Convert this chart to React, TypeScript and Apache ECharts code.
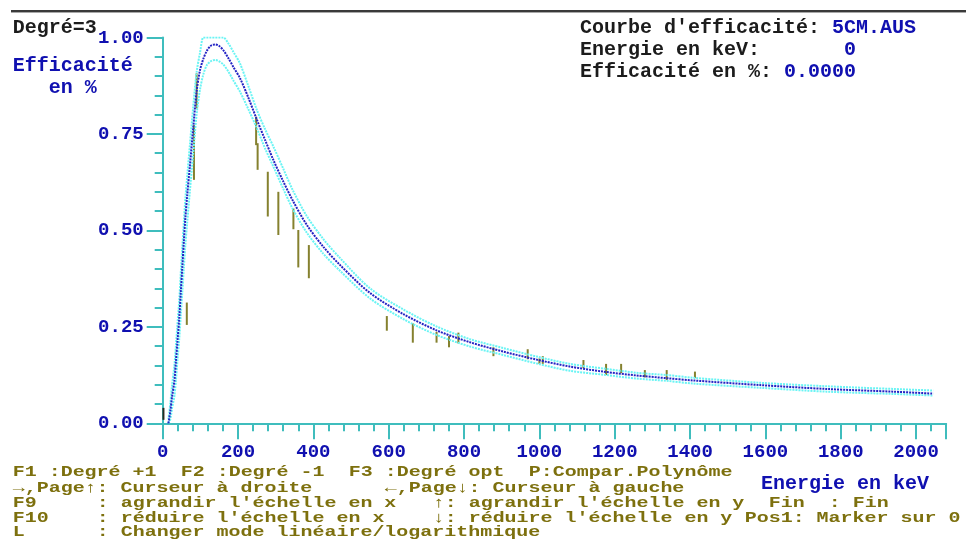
import React, { useEffect, useRef } from 'react';
import * as echarts from 'echarts';

// Energies (keV) at which the fitted curve and its confidence band were read
const energies = [15, 20, 25, 31, 35, 39, 44, 48, 52, 56, 60, 65, 72, 81, 90, 99, 108, 117, 127, 139, 150, 161, 174, 188, 205, 227, 250, 272, 294, 320, 345, 382, 426, 471, 550, 639, 727, 816, 904, 993, 1081, 1170, 1258, 1338, 1409, 1586, 1763, 1940, 2046];
// Fitted efficiency (degree 3 polynomial)
const fitValues = [0.0, 0.03, 0.07, 0.11, 0.16, 0.21, 0.275, 0.34, 0.405, 0.47, 0.53, 0.59, 0.665, 0.765, 0.86, 0.915, 0.945, 0.965, 0.978, 0.982, 0.978, 0.967, 0.947, 0.923, 0.895, 0.845, 0.787, 0.734, 0.682, 0.627, 0.578, 0.515, 0.458, 0.410, 0.338, 0.283, 0.241, 0.210, 0.186, 0.165, 0.147, 0.134, 0.124, 0.117, 0.111, 0.099, 0.089, 0.082, 0.077];
// Upper / lower confidence limits
const upperValues = [0.01, 0.05, 0.10, 0.15, 0.20, 0.255, 0.32, 0.39, 0.455, 0.52, 0.58, 0.64, 0.72, 0.82, 0.91, 0.96, 1.0, 1.0, 1.0, 1.0, 1.0, 1.0, 0.985, 0.962, 0.933, 0.875, 0.812, 0.762, 0.717, 0.66, 0.605, 0.538, 0.478, 0.428, 0.350, 0.295, 0.251, 0.218, 0.195, 0.173, 0.154, 0.142, 0.131, 0.125, 0.118, 0.105, 0.096, 0.089, 0.085];
const lowerValues = [0.0, 0.01, 0.04, 0.07, 0.11, 0.16, 0.22, 0.28, 0.34, 0.40, 0.46, 0.52, 0.60, 0.70, 0.80, 0.865, 0.905, 0.928, 0.938, 0.942, 0.938, 0.930, 0.912, 0.888, 0.860, 0.815, 0.765, 0.712, 0.665, 0.608, 0.556, 0.495, 0.440, 0.395, 0.324, 0.270, 0.229, 0.199, 0.177, 0.155, 0.136, 0.126, 0.116, 0.110, 0.103, 0.092, 0.082, 0.076, 0.072];

// Measured points (error bars); the first one is the dark low-energy noise bar
const barEnergies = [2, 64, 83, 90, 248, 252, 279, 307, 347, 360, 388, 595, 664, 727, 760, 785, 878, 969, 1000, 1009, 1117, 1177, 1217, 1280, 1338, 1413];
const barLow = [0.009, 0.255, 0.631, 0.816, 0.721, 0.657, 0.536, 0.488, 0.503, 0.404, 0.376, 0.240, 0.209, 0.209, 0.197, 0.207, 0.174, 0.166, 0.154, 0.154, 0.143, 0.125, 0.130, 0.119, 0.112, 0.117];
const barHigh = [0.04, 0.313, 0.773, 0.907, 0.795, 0.726, 0.652, 0.600, 0.557, 0.501, 0.462, 0.278, 0.259, 0.237, 0.226, 0.235, 0.197, 0.192, 0.168, 0.174, 0.164, 0.154, 0.154, 0.138, 0.138, 0.134];
const barKind = [1, 0, 0, 0, 0, 0, 0, 0, 0, 0, 0, 0, 0, 0, 0, 0, 0, 0, 0, 0, 0, 0, 0, 0, 0, 0];

const X_LABEL_MAX = 2000;

const FONT = '"Liberation Mono", "DejaVu Sans Mono", monospace';
const BLUE = '#1010b0';
const DARK = '#1c1c1c';
const OLIVE_TXT = '#7d700e';
const AXIS = '#3fbdbd';
const BAR_COLORS = ['#85812f', '#2a2a20'];

// Help text (column, text)
const helpLines: [number, string][][] = [
  [[0, 'F1 :Degré +1'], [14, 'F2 :Degré -1'], [28, 'F3 :Degré opt'], [43, 'P:Compar.Polynôme']],
  [[0, '→,Page↑: Curseur à droite'], [31, '←,Page↓: Curseur à gauche']],
  [[0, 'F9'], [7, ': agrandir l\'échelle en x'], [35, '↑: agrandir l\'échelle en y'], [63, 'Fin'], [68, ': Fin']],
  [[0, 'F10'], [7, ': réduire l\'échelle en x'], [35, '↓: réduire l\'échelle en y'], [61, 'Pos1: Marker sur 0']],
  [[0, 'L'], [7, ': Changer mode linéaire/logarithmique']],
];

function buildOption() {
  const pair = (vals: number[]) => energies.map((e, i) => [e, vals[i]]);
  const bars = barEnergies.map((e, i) => [e, barLow[i], barHigh[i], barKind[i]]);

  const barRender = (p: any, api: any) => {
    const a = api.coord([api.value(0), api.value(1)]);
    const b = api.coord([api.value(0), api.value(2)]);
    const color = BAR_COLORS[api.value(3)] || BAR_COLORS[0];
    return { type: 'line', shape: { x1: a[0], y1: a[1], x2: b[0], y2: b[1] }, style: { stroke: color, lineWidth: 2 } };
  };

  const graphics: any[] = [
    { type: 'rect', shape: { x: 11, y: 10, width: 955, height: 2 }, style: { fill: '#3a3a3a' } },
    { type: 'rect', shape: { x: 11, y: 12, width: 955, height: 1 }, style: { fill: '#a8a8a8' } },
  ];
  const txt = (x: number, y: number, text: string, fill: string, size = 20, scaleX = 1) => ({
    type: 'text', x, y, scaleX,
    style: { text, fill, font: `bold ${size}px ${FONT}`, verticalAlign: 'middle' },
  });
  graphics.push(txt(12.7, 27, 'Degré=3', DARK));
  graphics.push(txt(12.7, 65.5, 'Efficacité', BLUE));
  graphics.push(txt(48.7, 87.5, 'en %', BLUE));
  graphics.push(txt(580, 27, 'Courbe d\'efficacité:', DARK));
  graphics.push(txt(580 + 21 * 12, 27, '5CM.AUS', BLUE));
  graphics.push(txt(580, 49, 'Energie en keV:', DARK));
  graphics.push(txt(580 + 22 * 12, 49, '0', BLUE));
  graphics.push(txt(580, 71, 'Efficacité en %:', DARK));
  graphics.push(txt(580 + 17 * 12, 71, '0.0000', BLUE));
  graphics.push(txt(761, 483, 'Energie en keV', BLUE));
  const lineY = [472, 487.5, 503, 518, 532];
  helpLines.forEach((segs, li) => {
    segs.forEach(([col, s]) => {
      graphics.push(txt(12.7 + col * 12, lineY[li], s, OLIVE_TXT, 15, 1.3333));
    });
  });

  return {
    animation: false,
    grid: { left: 162.7, top: 37.5, right: 19.8, bottom: 115.7 },
    xAxis: {
      type: 'value', min: 0, max: 2080, interval: 200,
      axisLine: { show: true, lineStyle: { color: AXIS, width: 2 } },
      axisTick: { show: true, length: 16, lineStyle: { color: AXIS, width: 2 } },
      minorTick: { show: true, splitNumber: 5, length: 8, lineStyle: { color: AXIS, width: 2 } },
      axisLabel: {
        margin: 19, color: BLUE, fontSize: 19, fontFamily: FONT, fontWeight: 'bold',
        formatter: (v: number) => (v > X_LABEL_MAX ? '' : String(v)),
      },
      splitLine: { show: false },
    },
    yAxis: {
      type: 'value', min: 0, max: 1, interval: 0.25,
      axisLine: { show: true, lineStyle: { color: AXIS, width: 2 } },
      axisTick: { show: true, length: 16, lineStyle: { color: AXIS, width: 2 } },
      minorTick: { show: true, splitNumber: 5, length: 8, lineStyle: { color: AXIS, width: 2 } },
      axisLabel: {
        margin: 19, color: BLUE, fontSize: 19, fontFamily: FONT, fontWeight: 'bold',
        formatter: (v: number) => v.toFixed(2),
      },
      splitLine: { show: false },
    },
    graphic: graphics,
    series: [
      { type: 'line', data: pair(upperValues), smooth: 0.3, symbol: 'none', lineStyle: { color: '#6af4f4', width: 2, type: [2, 1] } },
      { type: 'line', data: pair(lowerValues), smooth: 0.3, symbol: 'none', lineStyle: { color: '#6af4f4', width: 2, type: [2, 1] } },
      { type: 'line', data: pair(fitValues), smooth: 0.3, symbol: 'none', lineStyle: { color: '#2424c4', width: 2, type: [2, 1] } },
      { type: 'custom', data: bars, encode: { x: 0, y: [1, 2] }, renderItem: barRender },
    ],
  };
}

export default function App() {
  const ref = useRef<HTMLDivElement>(null);
  useEffect(() => {
    const chart = echarts.init(ref.current!, null, { renderer: 'svg' });
    chart.setOption(buildOption() as any);
    return () => chart.dispose();
  }, []);
  return <div ref={ref} style={{ position: 'fixed', left: 0, top: 0, width: 966, height: 539 }} />;
}
